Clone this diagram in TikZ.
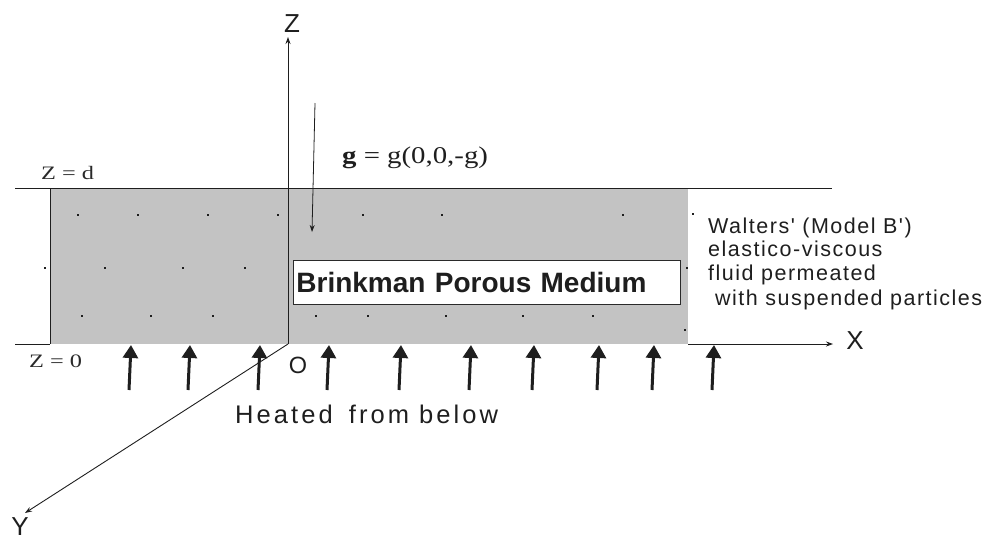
\documentclass[tikz,border=0pt]{standalone}
\usepackage{graphicx}
\usepackage{fontspec}
\setmainfont{Liberation Serif}
\newfontfamily\arialf{Liberation Sans}
\newfontfamily\arialheat[LetterSpace=12]{Liberation Sans}
\newfontfamily\arialnote[LetterSpace=7]{Liberation Sans}
\usetikzlibrary{arrows.meta}
\definecolor{fillgray}{HTML}{C3C3C3}
\definecolor{ink}{HTML}{1E1E1E}
\definecolor{labgray}{HTML}{2A2A2A}
\begin{document}
\begin{tikzpicture}[x=1pt,y=-1pt,
  axis/.style={draw=ink,line width=0.9pt},
  axarrow/.style={axis,-{Stealth[length=7pt,width=5pt]}},
  heat/.style={draw=ink,line width=3pt,-{Triangle[length=13pt,width=15pt]}},
  serif/.style={inner sep=0pt,text=labgray,font=\fontsize{19}{20}\selectfont},
  sanslab/.style={inner sep=0pt,text=ink,font=\arialf\fontsize{26}{28}\selectfont},
  note/.style={inner sep=0pt,anchor=base west,text=ink,font=\arialnote\fontsize{21.5}{24}\selectfont},
  dotmark/.style={fill=ink}]
\useasboundingbox (0,0) rectangle (987,542);

% layer
\fill[fillgray] (50,188) rectangle (688,344);
\draw[axis] (15,188) -- (832,188);
\draw[axis] (50,188) -- (50,344);
\draw[axis] (15,344) -- (50,344);

% dots
\foreach \x/\y in {78/215,138/215,208/215,278/215,363/215,442/215,623/215,693/214,
                   45/268,105/268,183/268,245/268,687/268,
                   82/316,151/316,213/316,316/316,368/316,446/316,523/316,593/316,685/330}
  \fill[dotmark] (\x-1.3,\y-1.3) rectangle (\x+1.3,\y+1.3);

% axes
\coordinate (O) at (288,344);
\coordinate (ztip) at (288,37);
\coordinate (xstart) at (688,344);
\coordinate (xtip) at (833,344);
\coordinate (ytip) at (25,513);
\draw[axarrow] (O) -- (ztip);
\draw[axarrow] (xstart) -- (xtip);
\draw[axarrow] (O) -- (ytip);

\node[sanslab] (zlab) at (292,24) {Z};
\node[sanslab] (xlab) at (855,341) {X};
\node[sanslab] (ylab) at (20,527) {Y};
\node[sanslab,font=\arialf\fontsize{23.5}{26}\selectfont] (olab) at (298,365) {O};

% gravity
\coordinate (gtop) at (315,103);
\coordinate (gbot) at (312,232);
\draw[axis,line width=0.8pt,-{Stealth[length=7pt,width=5pt]}] (gtop) -- (gbot);
\node[serif,anchor=base west,text=ink,font=\fontsize{24}{26}\selectfont] (glab) at (342,163)
  {\scalebox{1.2}[1]{\textbf{g} = g(0,0,-g)}};

% level labels
\node[serif,anchor=base west] (zd) at (41,179) {\scalebox{1.28}[1]{Z = d}};
\node[serif,anchor=base west] (z0) at (29,367) {\scalebox{1.28}[1]{Z = 0}};

% medium box
\node[draw=labgray,line width=0.8pt,fill=white,anchor=west,minimum width=387pt,
      minimum height=44pt,inner sep=3pt,text width=381pt,align=left,
      font=\arialf\bfseries\fontsize{28}{30}\selectfont,text=ink] (medium) at (293,282)
  {Brinkman Porous Medium};

% fluid description
\node[note] (n1) at (708,233) {Walters' (Model B')};
\node[note] (n2) at (708,256) {elastico-viscous};
\node[note] (n3) at (708,280) {fluid permeated};
\node[note] (n4) at (715,305) {with suspended particles};

% heating arrows
\foreach \i/\x in {1/131,2/190,3/260,4/329,5/401,6/471,7/534,8/599,9/654,10/714} {
  \coordinate (hb\i) at (\x-2,390);
  \coordinate (ht\i) at (\x,345);
  \draw[heat] (hb\i) -- (ht\i);
}
\node[inner sep=0pt,anchor=base west,text=ink,font=\arialheat\fontsize{25.5}{28}\selectfont] (heated) at (235,423)
  {Heated\hspace{6pt} from below};
\end{tikzpicture}
\end{document}
